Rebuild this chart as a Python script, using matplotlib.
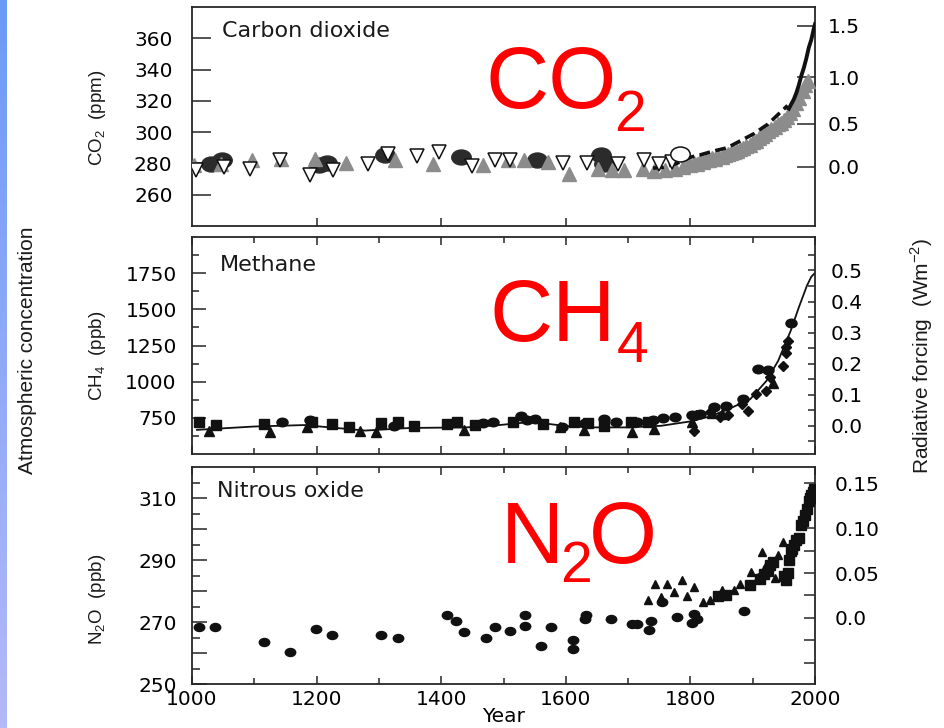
import numpy as np
import matplotlib
matplotlib.use('Agg')
import matplotlib.pyplot as plt
from matplotlib import font_manager as fm
from matplotlib.colors import LinearSegmentedColormap
from matplotlib.path import Path
from matplotlib.transforms import Affine2D

# ---- data ----
# CO2 (ppm)
co2_open_yr = [1007, 1051, 1093, 1141, 1189, 1227, 1282, 1314, 1361, 1397, 1449, 1486,
               1511, 1595, 1634, 1683, 1726, 1750, 1770]
co2_open = [275.6, 277.7, 276.2, 282.4, 272.4, 275.6, 279.9, 285.9, 284.6, 287.4, 278.2,
            282.0, 282.0, 280.3, 280.3, 279.9, 282.4, 279.9, 281.0]
co2_ring_yr = [1784]
co2_ring = [285.9]
co2_dark_yr = [1030, 1048, 1204, 1216, 1309, 1431, 1553, 1657, 1661]
co2_dark = [279.9, 282.0, 278.8, 280.3, 285.2, 284.1, 282.4, 285.2, 279.9]
co2_gray_yr = [1003, 1046, 1097, 1143, 1197, 1247, 1326, 1387, 1467, 1507, 1533, 1572,
               1605, 1651, 1674, 1694, 1724, 1742, 1760, 1775, 1788, 1796,
               1800, 1805, 1810, 1815, 1820, 1825, 1830, 1835, 1840, 1845, 1850, 1855,
               1860, 1865, 1870, 1875, 1880, 1885, 1890, 1895, 1900, 1905, 1910, 1915,
               1920, 1925, 1930, 1935, 1940, 1945, 1950, 1955, 1960, 1965, 1970, 1975,
               1980, 1984, 1988]
co2_gray = [278.8, 279.9, 282.0, 283.1, 283.1, 280.5, 282.4, 279.4, 278.8, 282.0, 282.0,
            281.0, 273.5, 276.7, 275.6, 275.6, 276.7, 275.0, 275.6, 276.5, 277.8, 279.9,
            279.0, 280.5, 279.5, 281.5, 281.0, 282.5, 282.0, 283.5, 283.0, 284.5, 284.0,
            285.5, 286.0, 286.5, 287.5, 288.0, 289.0, 290.0, 291.0, 292.0, 293.5, 294.5,
            296.0, 297.5, 299.0, 300.5, 302.0, 303.5, 305.0, 306.0, 307.5, 309.5, 312.0,
            315.0, 318.5, 322.0, 326.0, 330.0, 333.0]
co2_core_yr = [1740, 1756, 1778, 1800, 1817, 1838, 1859, 1881, 1902, 1924, 1940, 1956]
co2_core = [277.0, 277.5, 280.0, 284.0, 285.6, 288.0, 290.0, 294.6, 299.0, 305.0, 311.0, 317.0]
co2_ml_yr = [1958, 1962, 1966, 1970, 1974, 1978, 1982, 1986, 1990, 1994, 1998, 2000]
co2_ml = [315, 318, 321, 325, 330, 336, 341, 347, 354, 359, 366, 369]

# CH4 (ppb)
ch4_sq_yr = [1011, 1039, 1115, 1193, 1225, 1252, 1304, 1330, 1357, 1409, 1425, 1454,
             1515, 1564, 1613, 1636, 1662, 1704, 1732]
ch4_sq = [724, 701, 706, 722, 706, 688, 711, 722, 695, 706, 722, 699, 718, 706, 718, 715,
          695, 718, 724]
ch4_dot_yr = [1145, 1190, 1324, 1467, 1483, 1528, 1538, 1551, 1594, 1631, 1662, 1680,
              1715, 1740, 1756, 1776, 1802, 1815, 1838, 1857, 1885, 1909, 1924, 1961]
ch4_dot = [724, 734, 695, 711, 724, 764, 734, 745, 684, 713, 741, 722, 724, 734, 747, 757,
           768, 775, 828, 833, 879, 1087, 1080, 1403]
ch4_tri_yr = [1028, 1125, 1184, 1270, 1296, 1436, 1590, 1629, 1707, 1741, 1802, 1835, 1851,
              1932]
ch4_tri = [660, 649, 688, 660, 649, 665, 684, 667, 649, 672, 722, 780, 775, 994]
ch4_dia_yr = [1805, 1809, 1832, 1847, 1860, 1883, 1893, 1906, 1922, 1928, 1948, 1954, 1954,
              1956]
ch4_dia = [660, 768, 791, 757, 768, 845, 799, 918, 937, 1033, 1110, 1195, 1237, 1279]
ch4_fit_yr = [1008, 1100, 1180, 1278, 1350, 1441, 1493, 1545, 1597, 1636, 1701, 1753, 1798,
              1831, 1863, 1896, 1922, 1941, 1961, 1974, 1987, 1994, 2000]
ch4_fit = [667, 690, 700, 662, 680, 684, 700, 722, 695, 684, 684, 695, 724, 759, 814, 879,
           1005, 1145, 1352, 1513, 1663, 1725, 1752]

# N2O (ppb)
n2o_dot_yr = [1011, 1037, 1115, 1158, 1199, 1225, 1303, 1330, 1409, 1424, 1436, 1472, 1487,
              1511, 1535, 1535, 1560, 1577, 1611, 1611, 1631, 1633, 1673, 1707, 1714, 1733,
              1737, 1755, 1778, 1802, 1806, 1811, 1886]
n2o_dot = [268.5, 268.5, 263.4, 260.3, 267.7, 265.7, 265.9, 264.9, 272.3, 270.3, 266.9,
           264.9, 268.3, 267.2, 272.3, 268.8, 262.3, 268.5, 264.2, 261.3, 270.9, 272.3,
           271.0, 269.3, 269.3, 267.5, 270.2, 276.3, 271.5, 269.7, 272.7, 271.0, 273.4]
n2o_tri_yr = [1732, 1743, 1753, 1763, 1773, 1787, 1795, 1806, 1821, 1831, 1850, 1870, 1880,
              1898, 1909, 1915, 1922, 1935, 1941, 1948]
n2o_tri = [277.2, 282.1, 278.1, 282.1, 279.8, 283.4, 278.3, 281.3, 276.5, 277.0, 280.2,
           280.2, 282.4, 286.1, 284.5, 292.7, 288.3, 284.2, 291.6, 295.9]
n2o_sq_yr = [1844, 1857, 1896, 1912, 1918, 1925, 1928, 1932, 1950, 1954, 1956, 1958, 1961,
             1963, 1966, 1970, 1974, 1977, 1980, 1984, 1987, 1990, 1992, 1994, 1996, 1998]
n2o_sq = [278.3, 278.6, 282.0, 284.0, 285.4, 286.5, 288.5, 289.5, 284.8, 283.7, 285.8, 290.0,
          292.8, 293.5, 295.0, 296.5, 297.1, 301.4, 302.5, 304.6, 306.5, 308.9, 310.0, 311.0,
          312.0, 313.0]

# ---- styling ----
plt.rcParams['font.family'] = 'DejaVu Sans'
plt.rcParams['font.size'] = 14.5
W, H = 944, 728
ink = '#262626'

names = {f.name for f in fm.fontManager.ttflist}
if 'Liberation Sans Narrow' in names:
    tall_font, big_size, unit_size = 'Liberation Sans Narrow', 18, 15
else:
    tall_font, big_size, unit_size = 'Liberation Sans', 15, 13.5

ellipse = Path.unit_circle().transformed(Affine2D().scale(1.3, 1.0))


def box(l, t, r, b):
    return [l / W, 1 - b / H, (r - l) / W, (b - t) / H]


fig = plt.figure(figsize=(9.44, 7.28), dpi=100)

edge = fig.add_axes([0, 0, 7 / W, 1])
edge.imshow(np.linspace(0, 1, 200).reshape(-1, 1), aspect='auto',
            cmap=LinearSegmentedColormap.from_list('edge', ['#6c9af7', '#b4b9f8']))
edge.set_axis_off()

ax1 = fig.add_axes(box(192, 7, 815, 226))
ax2 = fig.add_axes(box(192, 237, 815, 454))
ax3 = fig.add_axes(box(192, 467, 815, 684))

for ax in (ax1, ax2, ax3):
    ax.set_xlim(1000, 2000)
    for s in ax.spines.values():
        s.set_color(ink)
        s.set_linewidth(1.3)

# --- carbon dioxide ---
ax1.plot(co2_dark_yr, co2_dark, ls='none', marker=ellipse, ms=14, color='#2b2b2b', zorder=2)
ax1.plot(co2_gray_yr, co2_gray, ls='none', marker='^', ms=10, color='#8c8c8c', mec='#8c8c8c',
         zorder=3)
ax1.plot(co2_core_yr, co2_core, color='#111111', lw=2.6, ls=(0, (3, 1.5)), zorder=4)
ax1.plot(co2_open_yr, co2_open, ls='none', marker='v', ms=10, mfc='white', mec='#111111',
         mew=1.1, zorder=5)
ax1.plot(co2_ring_yr, co2_ring, ls='none', marker=ellipse, ms=14, mfc='white', mec='#111111',
         mew=1.1, zorder=5)
ax1.plot(co2_ml_yr, co2_ml, color='#111111', lw=2.8, zorder=6)
ax1.set_ylim(240, 380)
ax1.set_yticks([260, 280, 300, 320, 340, 360])
ax1.set_xticks([1200, 1400, 1600, 1800])
ax1.tick_params(axis='y', direction='in', length=14, width=1.1, pad=14, color=ink, right=False)
ax1.tick_params(axis='x', direction='in', length=6, width=1.1, color=ink, labelbottom=False)

sec1 = ax1.secondary_yaxis('right', functions=(lambda c: 5.35 * np.log(np.clip(c, 1, None) / 278),
                                               lambda f: 278 * np.exp(f / 5.35)))
sec1.set_yticks([0, 0.5, 1.0, 1.5], labels=['0.0', '0.5', '1.0', '1.5'])
sec1.tick_params(direction='in', length=13, width=1.1, pad=9, color=ink)
sec1.spines['right'].set_visible(False)

# --- methane ---
ax2.plot(ch4_fit_yr, ch4_fit, color='#111111', lw=1.3, zorder=2)
ax2.plot(ch4_sq_yr, ch4_sq, ls='none', marker='s', ms=6.5, color='#111111', zorder=3)
ax2.plot(ch4_dot_yr, ch4_dot, ls='none', marker=ellipse, ms=8, color='#111111', zorder=3)
ax2.plot(ch4_tri_yr, ch4_tri, ls='none', marker='^', ms=6.5, color='#111111', zorder=3)
ax2.plot(ch4_dia_yr, ch4_dia, ls='none', marker='D', ms=5, color='#111111', zorder=3)
ax2.set_ylim(500, 2000)
ax2.set_yticks([750, 1000, 1250, 1500, 1750])
ax2.set_yticks([625, 875, 1125, 1375, 1625, 1875], minor=True)
ax2.set_xticks(range(1000, 2001, 200))
ax2.set_xticks(range(1100, 2000, 200), minor=True)
ax2.tick_params(axis='y', which='major', direction='in', length=10, width=1.1, pad=11,
                color=ink, right=False)
ax2.tick_params(axis='y', which='minor', direction='in', length=5, width=1.1, color=ink,
                right=False)
ax2.tick_params(axis='x', which='both', direction='in', top=True, labelbottom=False,
                width=1.1, color=ink)
ax2.tick_params(axis='x', which='major', length=6)
ax2.tick_params(axis='x', which='minor', length=4)

sec2 = ax2.secondary_yaxis('right', functions=(lambda m: (m - 695) / 2147,
                                               lambda f: f * 2147 + 695))
sec2.set_yticks([0, 0.1, 0.2, 0.3, 0.4, 0.5], labels=['0.0', '0.1', '0.2', '0.3', '0.4', '0.5'])
sec2.set_yticks([-0.05, 0.05, 0.15, 0.25, 0.35, 0.45, 0.55], minor=True)
sec2.tick_params(which='both', direction='in', length=5, width=1.1, pad=11, color=ink)
sec2.spines['right'].set_visible(False)

# --- nitrous oxide ---
ax3.plot(n2o_dot_yr, n2o_dot, ls='none', marker=ellipse, ms=7.5, color='#111111', zorder=3)
ax3.plot(n2o_tri_yr, n2o_tri, ls='none', marker='^', ms=5.5, color='#111111', zorder=3)
ax3.plot(n2o_sq_yr, n2o_sq, ls='none', marker='s', ms=6.5, color='#111111', zorder=3)
ax3.set_ylim(250, 320)
ax3.set_yticks(range(250, 320, 10), labels=['250', '', '270', '', '290', '', '310'])
ax3.set_yticks(range(255, 320, 10), minor=True)
ax3.set_xticks(range(1000, 2001, 200))
ax3.set_xticks(range(1100, 2000, 200), minor=True)
ax3.tick_params(axis='y', which='major', direction='in', length=11, width=1.1, pad=11,
                color=ink, right=False)
ax3.tick_params(axis='y', which='minor', direction='in', length=6, width=1.1, color=ink,
                right=False)
ax3.tick_params(axis='x', which='both', direction='in', top=True, width=1.1, color=ink, pad=4)
ax3.tick_params(axis='x', which='major', length=6)
ax3.tick_params(axis='x', which='minor', length=4)
ax3.set_xlabel('Year', labelpad=-1)

sec3 = ax3.secondary_yaxis('right', functions=(lambda n: (n - 271.3) / 290,
                                               lambda f: f * 290 + 271.3))
sec3.set_yticks([0, 0.05, 0.10, 0.15], labels=['0.0', '0.05', '0.10', '0.15'])
sec3.set_yticks([-0.075, -0.05, -0.025, 0.025, 0.075, 0.125], minor=True)
sec3.tick_params(which='both', direction='in', length=8, width=1.1, pad=14, color=ink)
sec3.spines['right'].set_visible(False)

# --- panel names ---
fig.text(222 / W, 1 - 37 / H, 'Carbon dioxide', size=16, color='#1a1a1a', va='baseline')
fig.text(220 / W, 1 - 271 / H, 'Methane', size=16, color='#1a1a1a', va='baseline')
fig.text(217 / W, 1 - 497 / H, 'Nitrous oxide', size=16, color='#1a1a1a', va='baseline')

# --- big red formulas (main letters, then the lowered subscripts) ---
red = dict(family='Liberation Sans', color='#ff0000', va='baseline', ha='left')
fig.text(485 / W, 1 - 108 / H, 'CO', size=63, **red)
fig.text(614 / W, 1 - 131 / H, '2', size=41, **red)
fig.text(490 / W, 1 - 341 / H, 'CH', size=63, **red)
fig.text(617 / W, 1 - 362 / H, '4', size=41, **red)
fig.text(501 / W, 1 - 563 / H, 'N', size=63, **red)
fig.text(560 / W, 1 - 582 / H, '2', size=41, **red)
fig.text(589 / W, 1 - 563 / H, 'O', size=63, **red)

# --- axis titles ---
side = dict(rotation=90, ha='center', va='center', family=tall_font, color='#1a1a1a')
fig.text(28 / W, 1 - 350 / H, 'Atmospheric concentration', size=big_size, **side)
fig.text(922 / W, 1 - 356 / H, r'Radiative forcing  (Wm$^{\mathregular{-2}}$)', size=big_size,
         **side)
fig.text(97 / W, 1 - 118 / H, r'CO$_\mathregular{2}$  (ppm)', size=unit_size, **side)
fig.text(97 / W, 1 - 356 / H, r'CH$_\mathregular{4}$  (ppb)', size=unit_size, **side)
fig.text(97 / W, 1 - 599 / H, r'N$_\mathregular{2}$O  (ppb)', size=unit_size, **side)

fig.savefig('out.png', dpi=100)
